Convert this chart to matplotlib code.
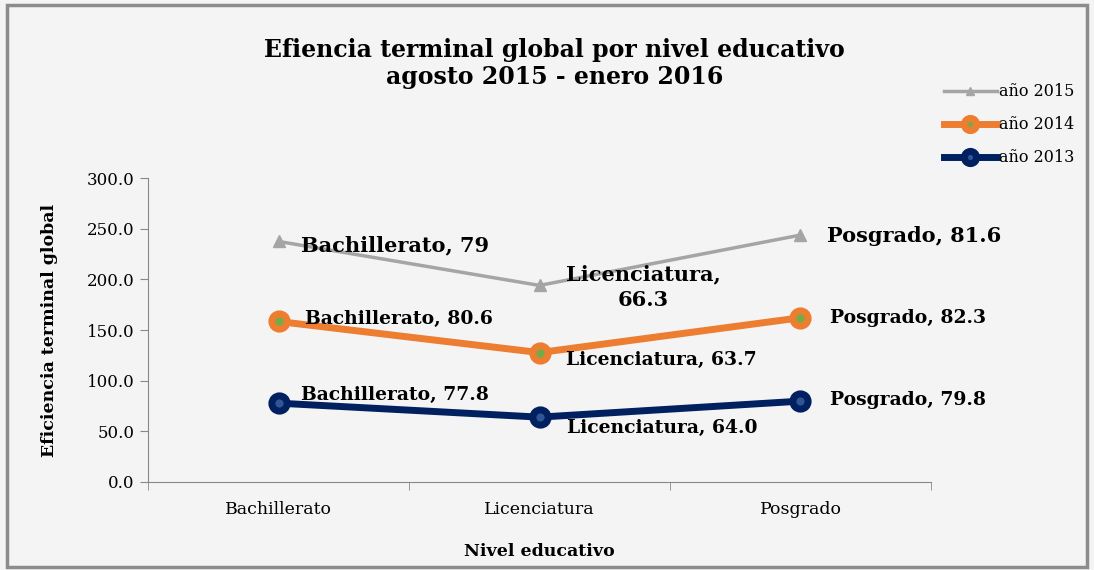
import numpy as np
import matplotlib
matplotlib.use("Agg")
import matplotlib.pyplot as plt
from matplotlib.patches import Rectangle

# data (stacked line chart, labels show the raw values)
niveles = ["Bachillerato", "Licenciatura", "Posgrado"]
y2013 = [77.8, 64.0, 79.8]
y2014 = [80.6, 63.7, 82.3]
y2015 = [79, 66.3, 81.6]
etiquetas_2015 = ["Bachillerato, 79", "Licenciatura,\n66.3", "Posgrado, 81.6"]
etiquetas_2014 = ["Bachillerato, 80.6", "Licenciatura, 63.7", "Posgrado, 82.3"]
etiquetas_2013 = ["Bachillerato, 77.8", "Licenciatura, 64.0", "Posgrado, 79.8"]
yticks = [0, 50, 100, 150, 200, 250, 300]

plt.rcParams['font.family'] = ['DejaVu Serif']

s13 = np.array(y2013)
s14 = s13 + np.array(y2014)
s15 = s14 + np.array(y2015)

fig = plt.figure(figsize=(10.94, 5.70), dpi=100)
fig.patch.set_facecolor('#f4f4f4')
fig.patches.append(Rectangle((0.006, 0.006), 0.988, 0.985, transform=fig.transFigure,
                             fill=False, edgecolor='#8c8c8c', lw=2.5))

ax = fig.add_axes([0.1353, 0.1544, 0.7157, 0.5333])
ax.set_facecolor('none')
x = np.arange(len(niveles))

l15, = ax.plot(x, s15, color='#a5a5a5', lw=2.5, marker='^', ms=8, label='año 2015')
l14, = ax.plot(x, s14, color='#ed7d31', lw=5, marker='o', ms=11, mfc='#70ad47',
               mec='#ed7d31', mew=5, label='año 2014')
l13, = ax.plot(x, s13, color='#002060', lw=5, marker='o', ms=11, mfc='#2f5597',
               mec='#002060', mew=5, label='año 2013')

ax.set_xlim(-0.5, 2.5)
ax.set_ylim(0, 300)
ax.set_yticks(yticks)
ax.set_yticklabels([f"{v:.1f}" for v in yticks], fontsize=12)
ax.set_xticks(x)
ax.set_xticklabels(niveles, fontsize=12.5)
ax.set_xticks([-0.5, 0.5, 1.5, 2.5], minor=True)
ax.tick_params(axis='x', which='major', length=0, pad=14)
ax.tick_params(axis='x', which='minor', length=6, color='#888888')
ax.tick_params(axis='y', length=6, color='#888888')
for s in ['top', 'right']:
    ax.spines[s].set_visible(False)
ax.spines['left'].set_color('#888888')
ax.spines['bottom'].set_color('#888888')

ax.set_xlabel("Nivel educativo", fontsize=12.5, fontweight='bold', labelpad=18)
ax.set_ylabel("Eficiencia terminal global", fontsize=12.5, fontweight='bold', labelpad=21)

# data labels
off15 = [(16, -3), (0, 0), (19, -1)]
for i, t in enumerate(etiquetas_2015):
    if i == 1:
        ax.annotate(t, (x[i], s15[i]), xytext=(75, -1), textcoords='offset points',
                    ha='center', va='center', fontsize=15, fontweight='bold',
                    linespacing=1.35)
    else:
        ax.annotate(t, (x[i], s15[i]), xytext=off15[i], textcoords='offset points',
                    ha='left', va='center', fontsize=15, fontweight='bold')
off14 = [(19, 2), (19, -5), (21, 0)]
for i, t in enumerate(etiquetas_2014):
    ax.annotate(t, (x[i], s14[i]), xytext=off14[i], textcoords='offset points',
                ha='left', va='center', fontsize=13.5, fontweight='bold')
off13 = [(16, 6), (20, -8), (21, 1)]
for i, t in enumerate(etiquetas_2013):
    ax.annotate(t, (x[i], s13[i]), xytext=off13[i], textcoords='offset points',
                ha='left', va='center', fontsize=13.5, fontweight='bold')

fig.text(0.507, 0.889, "Efiencia terminal global por nivel educativo\nagosto 2015 - enero 2016",
         ha='center', va='center', fontsize=17, fontweight='bold', linespacing=1.15)

fig.legend(handles=[l15, l14, l13], loc='upper left', bbox_to_anchor=(0.857, 0.865),
           frameon=False, fontsize=11.5, handlelength=3.3, labelspacing=1.0,
           handletextpad=0.15, borderaxespad=0, markerscale=0.8)

fig.savefig("out.png", dpi=100, facecolor=fig.get_facecolor())
